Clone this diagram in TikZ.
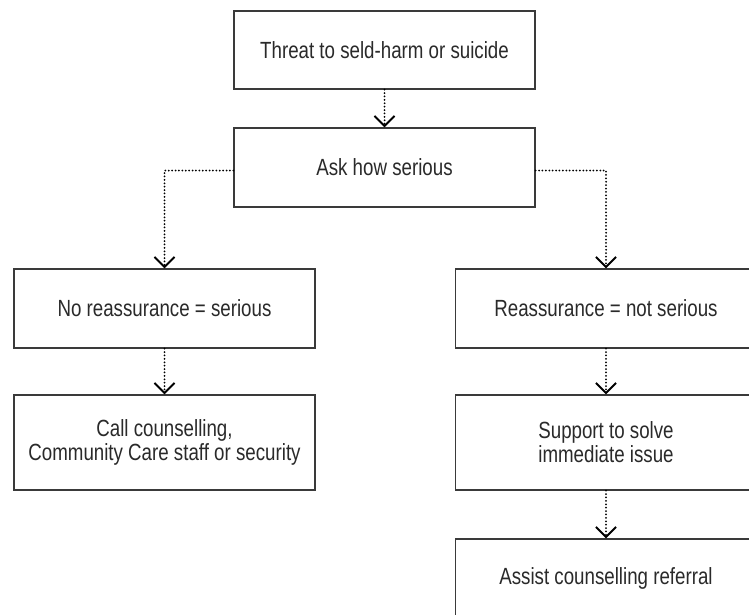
\documentclass[tikz,border=0pt]{standalone}
\usepackage{fontspec}
\setmainfont{Liberation Sans}[FakeStretch=0.8]
\usetikzlibrary{arrows.meta}
\definecolor{boxline}{HTML}{3A3A3A}
\definecolor{txt}{HTML}{2A2A2A}
\begin{document}
\begin{tikzpicture}[x=1pt,y=-1pt,
  flowbox/.style={draw=boxline, line width=1.3pt, minimum width=301pt, inner sep=0pt,
    align=center, text=txt, font=\fontsize{23.4}{24}\selectfont},
  flowlink/.style={draw=black, line width=2pt, line cap=round, dash pattern=on 0pt off 3.4pt,
    -{Straight Barb[length=10pt,width=20pt,line width=2pt]}}
]
\clip (0,0) rectangle (749,614);
\fill[white] (0,0) rectangle (749,614);
\node[flowbox, minimum height=78pt] (top) at (384.5,50) {Threat to seld-harm or suicide};
\node[flowbox, minimum height=79pt] (ask) at (384.5,167.5) {Ask how serious};
\node[flowbox, minimum height=79pt] (noreas) at (164.5,308.5) {No reassurance = serious};
\node[flowbox, minimum height=95pt] (call) at (164.5,442.5) {Call counselling,\\Community Care staff or security};
\node[flowbox, minimum height=79pt] (reas) at (606,308.5) {Reassurance = not serious};
\node[flowbox, minimum height=95pt] (support) at (606,442.5) {Support to solve\\immediate issue};
\node[flowbox, minimum height=79pt] (assist) at (606,578.5) {Assist counselling referral};
\draw[flowlink] (top.south) -- (ask.north);
\draw[flowlink] ([yshift=-3pt]ask.west) -| (noreas.north);
\draw[flowlink] ([yshift=-3pt]ask.east) -| (reas.north);
\draw[flowlink] (noreas.south) -- (call.north);
\draw[flowlink] (reas.south) -- (support.north);
\draw[flowlink] (support.south) -- (assist.north);
\end{tikzpicture}
\end{document}
